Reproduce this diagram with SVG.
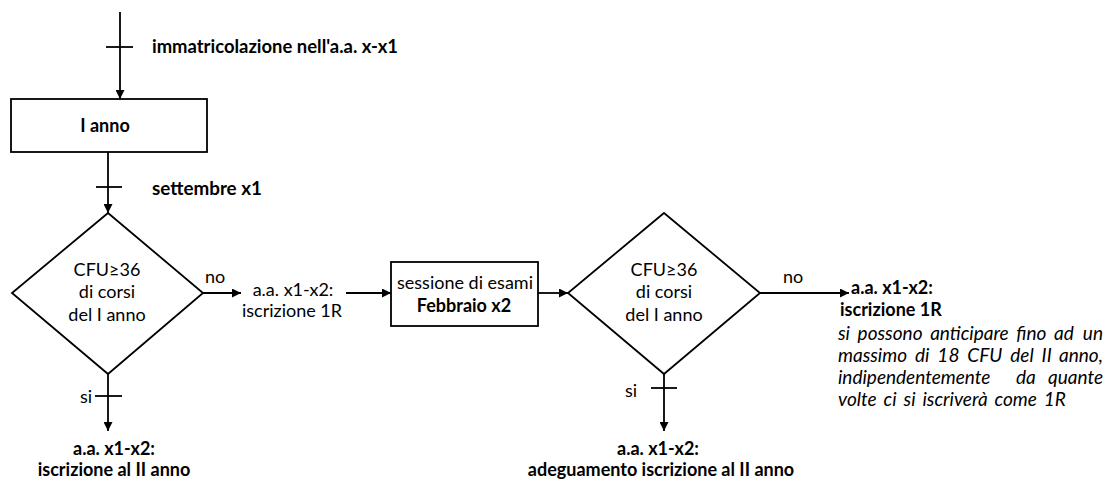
<svg xmlns="http://www.w3.org/2000/svg" width="1108" height="481" viewBox="0 0 1108 481">
<defs>
<marker id="ah" viewBox="0 0 10 10" refX="10" refY="5" markerWidth="9" markerHeight="9" markerUnits="userSpaceOnUse" orient="auto">
<path d="M0,0 L10,5 L0,10 z" fill="#000"/>
</marker>
<style>
.t{font-family:Lato,"Liberation Sans",sans-serif;font-size:18px;fill:#000}
.b{font-weight:bold}
.i{font-style:italic;font-size:19px}
.m{text-anchor:middle}
.e{text-anchor:end}
.s{fill:#fff;stroke:#000;stroke-width:1.8}
.c{fill:none;stroke:#000;stroke-width:1.8}
.a{marker-end:url(#ah)}
</style>
</defs>
<rect width="1108" height="481" fill="#fff"/>
<g id="connectors">
<line class="c a" x1="120" y1="12" x2="120" y2="99"/>
<line class="c" x1="106" y1="47" x2="133" y2="47"/>
<line class="c a" x1="108" y1="152" x2="108" y2="213"/>
<line class="c" x1="96" y1="187" x2="122" y2="187"/>
<line class="c a" x1="203" y1="293" x2="241" y2="293"/>
<line class="c a" x1="346" y1="293" x2="391" y2="293"/>
<line class="c a" x1="538" y1="293" x2="568" y2="293"/>
<line class="c a" x1="760" y1="293" x2="849" y2="293"/>
<line class="c a" x1="108" y1="374" x2="108" y2="431"/>
<line class="c" x1="95" y1="396" x2="122" y2="396"/>
<line class="c a" x1="664" y1="374" x2="664" y2="431"/>
<line class="c" x1="651" y1="388" x2="677" y2="388"/>
</g>
<g id="label-immatricolazione"><text class="t b" x="152" y="53" textLength="246" lengthAdjust="spacingAndGlyphs">immatricolazione nell'a.a. x-x1</text></g>
<g id="node-I-anno">
<rect class="s" x="11" y="99" width="196" height="53"/>
<text class="t b m" x="105" y="132">I anno</text>
</g>
<g id="label-settembre"><text class="t b" x="152" y="195" textLength="110" lengthAdjust="spacingAndGlyphs">settembre x1</text></g>
<g id="node-decision1">
<polygon class="s" points="108,213 203,293 108,374 12,293"/>
<text class="t m" x="107" y="276">CFU≥36</text>
<text class="t m" x="107" y="298">di corsi</text>
<text class="t m" x="107" y="321">del I anno</text>
</g>
<g id="label-no1"><text class="t" x="205" y="283">no</text></g>
<g id="node-iscrizione1R">
<text class="t m" x="293" y="296">a.a. x1-x2:</text>
<text class="t m" x="292" y="317">iscrizione 1R</text>
</g>
<g id="node-sessione">
<rect class="s" x="391" y="262" width="147" height="64"/>
<text class="t m" x="465" y="289">sessione di esami</text>
<text class="t b m" x="464" y="312">Febbraio x2</text>
</g>
<g id="node-decision2">
<polygon class="s" points="664,213 760,293 664,374 568,293"/>
<text class="t m" x="664" y="276">CFU≥36</text>
<text class="t m" x="664" y="298">di corsi</text>
<text class="t m" x="664" y="321">del I anno</text>
</g>
<g id="label-no2"><text class="t" x="783" y="283">no</text></g>
<g id="node-iscrizione1R-final">
<text class="t b" x="851" y="294">a.a. x1-x2:</text>
<text class="t b" x="840" y="316">iscrizione 1R</text>
<text class="t i" x="838" y="340" style="word-spacing:3.2px">si possono anticipare fino ad</text>
<text class="t i e" x="1103" y="340">un</text>
<text class="t i" x="838" y="362" style="word-spacing:3.5px">massimo di 18 CFU del II</text>
<text class="t i e" x="1103" y="362">anno,</text>
<text class="t i" y="384"><tspan x="838">indipendentemente</tspan><tspan x="1016">da</tspan></text>
<text class="t i e" x="1103" y="384">quante</text>
<text class="t i" x="838" y="406" style="word-spacing:2.5px">volte ci si iscriverà come 1R</text>
</g>
<g id="label-si1"><text class="t" x="80" y="403">si</text></g>
<g id="node-iscrizione-II">
<text class="t b m" x="114" y="455">a.a. x1-x2:</text>
<text class="t b m" x="114" y="476">iscrizione al II anno</text>
</g>
<g id="label-si2"><text class="t" x="625" y="397">si</text></g>
<g id="node-adeguamento">
<text class="t b m" x="658" y="455">a.a. x1-x2:</text>
<text class="t b m" x="661" y="476">adeguamento iscrizione al II anno</text>
</g>
</svg>
